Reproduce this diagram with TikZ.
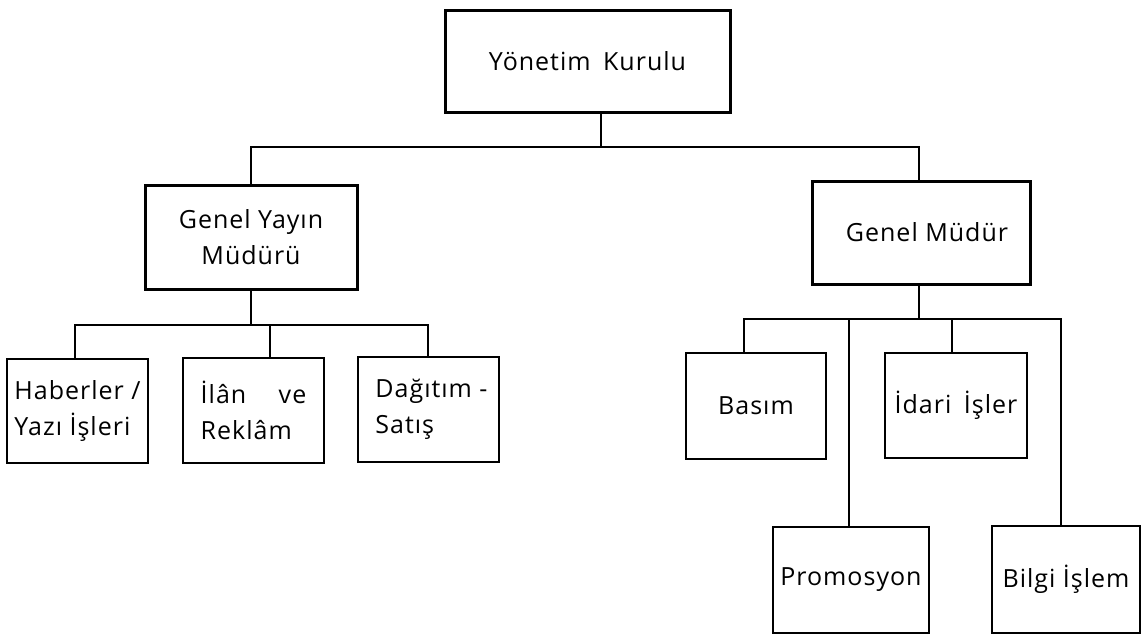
\documentclass[tikz,border=0pt]{standalone}
\usepackage{fontspec}
\setmainfont{Open Sans}[LetterSpace=4]
\usetikzlibrary{calc}
\begin{document}
\begin{tikzpicture}[x=1pt,y=-1pt,
  box/.style={draw,rectangle,line width=1.6pt,inner sep=0pt,
    font=\fontsize{25}{36}\selectfont,align=center},
  headbox/.style={box,line width=3pt},
  leftbox/.style={box,align=left},
  link/.style={line width=1.6pt}]
\useasboundingbox (0,0) rectangle (1142,635);

% top level
\node[headbox,minimum width=285pt,minimum height=102pt] (yk) at (587.5,61) {Yönetim\enspace Kurulu};

% second level
\node[headbox,minimum width=212pt,minimum height=104pt] (gym) at (251,237) {Genel Yayın\\Müdürü};
\node[headbox,minimum width=218pt,minimum height=103pt] (gm) at (921,232.5) {\hspace*{12pt}Genel Müdür};

% editorial departments
\node[leftbox,minimum width=141pt,minimum height=104pt] (hab) at (77.5,411) {Haberler /\\Yazı İşleri};
\node[leftbox,minimum width=141pt,minimum height=105pt] (ilan) at (253.5,410.5) {İlân\quad\ ve\\Reklâm};
\node[leftbox,minimum width=141pt,minimum height=105pt] (dag) at (428.5,409.5) {\hspace*{6pt}Dağıtım -\\\hspace*{6pt}Satış};

% management departments
\node[box,minimum width=140pt,minimum height=106pt] (basim) at (756,406) {Basım};
\node[box,minimum width=142pt,minimum height=105pt] (idari) at (956,405.5) {İdari\enspace İşler};
\node[box,minimum width=156pt,minimum height=106pt] (promo) at (851,580) {Promosyon};
\node[box,minimum width=148pt,minimum height=107pt] (bilgi) at (1066,579.5) {Bilgi İşlem};

% bus lines
\coordinate (topL) at (251,147);
\coordinate (topR) at (919,147);
\coordinate (ykdrop) at (601,147);
\coordinate (edL) at (75,325);
\coordinate (edM) at (270,325);
\coordinate (edR) at (428,325);
\coordinate (edC) at (251,325);
\coordinate (mgL) at (744,319);
\coordinate (mgA) at (849,319);
\coordinate (mgB) at (952,319);
\coordinate (mgR) at (1061,319);
\coordinate (mgC) at (919,319);

% board to directors
\draw[link] (ykdrop |- yk.south) -- (ykdrop);
\draw[link] (gym.north) -- (topL) -- (topR) -- (topR |- gm.north);

% editorial branch
\draw[link] (gym.south) -- (edC);
\draw[link] (edL |- hab.north) -- (edL) -- (edR) -- (edR |- dag.north);
\draw[link] (edM) -- (edM |- ilan.north);

% management branch
\draw[link] (mgC |- gm.south) -- (mgC);
\draw[link] (mgL |- basim.north) -- (mgL) -- (mgR) -- (mgR |- bilgi.north);
\draw[link] (mgA) -- (mgA |- promo.north);
\draw[link] (mgB) -- (mgB |- idari.north);
\end{tikzpicture}
\end{document}
